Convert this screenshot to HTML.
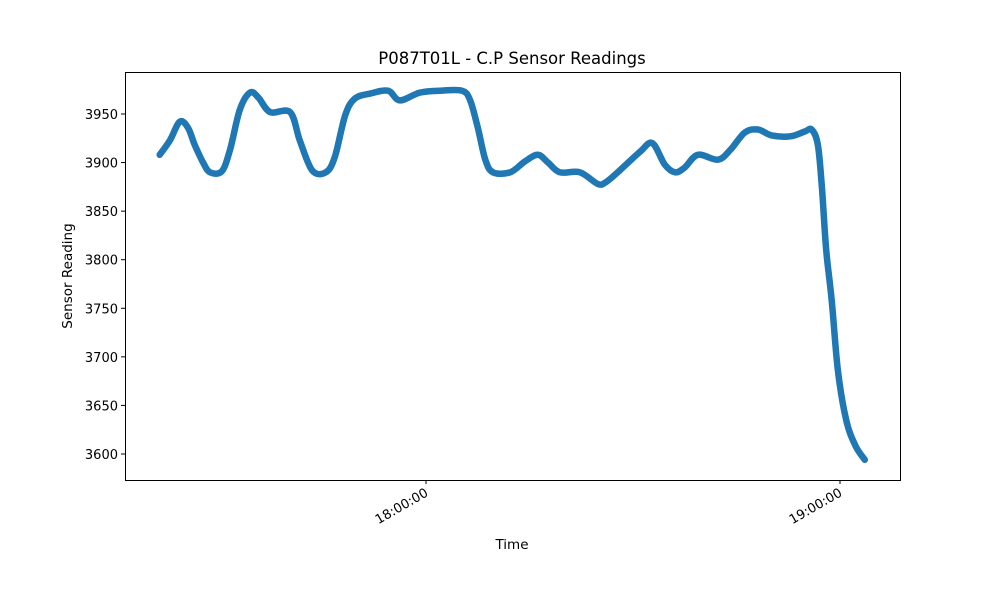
<!DOCTYPE html>
<html><head><meta charset="utf-8"><style>
body{margin:0;background:#fff;font-family:"Liberation Sans","DejaVu Sans",sans-serif}
</style></head><body>
<svg id="chart" width="1000" height="600" font-family="DejaVu Sans, Liberation Sans, sans-serif">
<rect width="1000" height="600" fill="#fff"/>
<text x="512" y="64" font-size="16.5" text-anchor="middle">P087T01L - C.P Sensor Readings</text>
<g id="yticks"></g>
<g id="xticks"></g>
<g id="plot"></g>
<rect x="125.5" y="72.5" width="775" height="408" fill="none" stroke="#000" stroke-width="1"/>
<text x="512" y="549" font-size="13.5" text-anchor="middle">Time</text>
<text x="72" y="276" font-size="13.5" text-anchor="middle" transform="rotate(-90 72 276)">Sensor Reading</text>
</svg>
<script>
// minutes after 17:00:00
const times=[21.4,22.9,24.3,25.5,26.5,27.7,28.7,30.4,31.6,33.0,34.5,35.7,37.4,40.3,41.7,43.5,45.5,46.8,48.3,49.7,51.9,54.5,56.2,59.1,62.0,65.2,66.4,67.5,68.6,69.7,72.2,74.3,76.2,77.7,79.4,82.3,84.9,86.1,88.1,91.0,92.8,94.6,96.1,97.5,99.4,102.3,104.1,106.2,108.1,110.1,112.8,114.9,115.9,116.8,117.4,118.0,118.8,119.7,120.9,122.2,123.6];
const values=[3908,3923,3942,3936,3918,3900,3890,3891,3913,3954,3972,3967,3952,3952,3923,3892,3890,3906,3949,3966,3971,3974,3964,3972,3974,3974,3964,3936,3903,3890,3890,3901,3908,3900,3890,3890,3878,3880,3892,3911,3920,3898,3890,3895,3908,3903,3913,3931,3934,3928,3927,3932,3934,3918,3872,3810,3758,3686,3635,3609,3594];
const yTicks=[3600,3650,3700,3750,3800,3850,3900,3950];
const xTicks=[60,120];
const xTickLabels=["18:00:00","19:00:00"];
const NS="http://www.w3.org/2000/svg";
const xs=t=>426+(t-60)*6.9;
const ys=v=>114+(3950-v)*48.57/50;
function mk(tag,attrs,parent){const e=document.createElementNS(NS,tag);for(const k in attrs)e.setAttribute(k,attrs[k]);parent.appendChild(e);return e;}
const yg=document.getElementById('yticks');
yTicks.forEach(v=>{const y=ys(v);
 const l=mk('line',{x1:121,x2:125,y1:y,y2:y,stroke:'#000'},yg);
 
 
 const t=mk('text',{x:118,y:y+5,'font-size':13,'text-anchor':'end'},yg);t.textContent=v;
 
 
});
const xg=document.getElementById('xticks');
xTicks.forEach((m,i)=>{const x=xs(m);
 const l=mk('line',{x1:x,x2:x,y1:480,y2:484,stroke:'#000'},xg);
 
 
 const t=mk('text',{x:x,y:496,'font-size':13,'text-anchor':'end',transform:`rotate(-30 ${x} 490)`},xg);t.textContent=xTickLabels[i];
 
 
});
const pg=document.getElementById('plot');
const P=times.map((t,i)=>[xs(t),ys(values[i])]);
let d=`M${P[0][0].toFixed(1)},${P[0][1].toFixed(1)}`;
for(let i=0;i<P.length-1;i++){
 const p0=P[Math.max(0,i-1)],p1=P[i],p2=P[i+1],p3=P[Math.min(P.length-1,i+2)];
 const c1=[p1[0]+(p2[0]-p0[0])/6,p1[1]+(p2[1]-p0[1])/6];
 const c2=[p2[0]-(p3[0]-p1[0])/6,p2[1]-(p3[1]-p1[1])/6];
 d+=` C${c1[0].toFixed(1)},${c1[1].toFixed(1)} ${c2[0].toFixed(1)},${c2[1].toFixed(1)} ${p2[0].toFixed(1)},${p2[1].toFixed(1)}`;
}
const pl=mk('path',{d:d,fill:'none',stroke:'#1f77b4','stroke-width':6.5,'stroke-linejoin':'round','stroke-linecap':'round'},pg);


</script>
</body></html>
